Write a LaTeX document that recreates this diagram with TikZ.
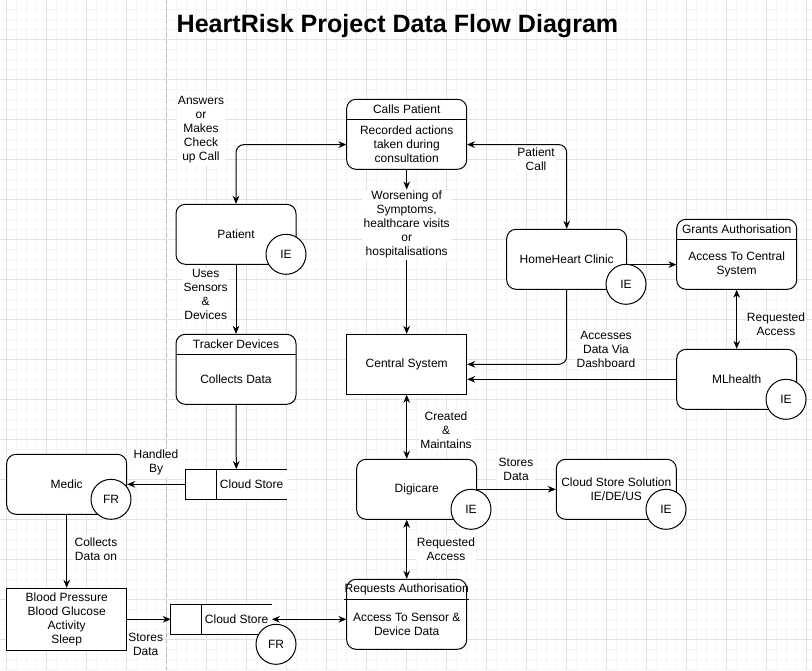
\documentclass[tikz,border=0pt]{standalone}
\usepackage{fontspec}
\setmainfont{Liberation Sans}
\usepackage{tikz}
\usetikzlibrary{positioning}
\usetikzlibrary{arrows.meta}
\usepackage{xcolor}

\definecolor{gridminor}{RGB}{245,245,245}
\definecolor{gridmajor}{RGB}{225,225,225}
\definecolor{divider}{RGB}{185,185,185}

\tikzset{
  line/.style={black, line width=0.75pt},
  proc/.style={line, draw, fill=white, rounded corners=7pt, minimum width=90pt, minimum height=45pt, align=center},
  plainbox/.style={line, draw, fill=white, minimum width=90pt, minimum height=45pt, align=center},
  tbox/.style={line, draw, fill=white, rounded corners=7pt, minimum width=90pt, minimum height=52.5pt},
  thead/.style={minimum width=90pt, minimum height=15pt, inner sep=0pt},
  tbody/.style={minimum width=90pt, minimum height=37.5pt, inner sep=0pt, align=center},
  store/.style={fill=white, minimum width=75.5pt, minimum height=22.5pt, inner sep=0pt},
  badge/.style={line, draw, fill=white, circle, minimum size=30pt, inner sep=0pt},
  lbl/.style={fill=white, inner sep=1pt, align=center},
  flow/.style={line, -{Stealth[length=6pt,width=5pt]}},
  twoway/.style={line, {Stealth[length=6pt,width=5pt]}-{Stealth[length=6pt,width=5pt]}}
}

\begin{document}
\begin{tikzpicture}[x=0.75pt, y=-0.75pt, font=\fontsize{9}{10.5}\selectfont]
\useasboundingbox (0,0) rectangle (812,670);
\fill[white] (0,0) rectangle (812,670);
\foreach \x in {6.7,16.7,...,806.7} \draw[gridminor, line width=0.5pt] (\x,0) -- (\x,670);
\foreach \y in {9.3,19.3,...,669.3} \draw[gridminor, line width=0.5pt] (0,\y) -- (812,\y);
\foreach \x in {6.7,46.7,...,806.7} \draw[gridmajor, line width=0.5pt] (\x,0) -- (\x,670);
\foreach \y in {39.3,79.3,...,669.3} \draw[gridmajor, line width=0.5pt] (0,\y) -- (812,\y);
\draw[divider, line width=0.6pt, dash pattern=on 2.5pt off 2.5pt] (166.7,0) -- (166.7,670);

\node[font=\bfseries\fontsize{18.8}{22}\selectfont] (title) at (397.5,26) {HeartRisk Project Data Flow Diagram};

\node[proc] (patient) at (236,234.3) {Patient};
\node[tbox] (track) at (236,369.3) {};
\node[thead, below=0pt of track.north] (trackH) {Tracker Devices};
\node[tbody, below=0pt of trackH] (trackB) {Collects Data};
\draw[line] (trackH.south west) -- (trackH.south east);

\node[tbox] (calls) at (406.7,134.3) {};
\node[thead, below=0pt of calls.north] (callsH) {Calls Patient};
\node[tbody, below=0pt of callsH] (callsB) {Recorded actions\\taken during\\consultation};
\draw[line] (callsH.south west) -- (callsH.south east);

\node[plainbox] (central) at (406.7,364.3) {Central System};
\node[proc] (home) at (566.7,259.3) {HomeHeart Clinic};

\node[tbox] (grants) at (736.7,254.3) {};
\node[thead, below=0pt of grants.north] (grantsH) {Grants Authorisation};
\node[tbody, below=0pt of grantsH] (grantsB) {Access To Central\\System};
\draw[line] (grantsH.south west) -- (grantsH.south east);

\node[proc] (ml) at (736.7,379.3) {MLhealth};
\node[proc] (digi) at (416.7,489.3) {Digicare};
\node[proc] (cloudsol) at (616.3,489.3) {Cloud Store Solution\\IE/DE/US};

\node[tbox] (req) at (406.7,614.3) {};
\node[thead, below=0pt of req.north] (reqH) {Requests Authorisation};
\node[tbody, below=0pt of reqH] (reqB) {Access To Sensor \&\\Device Data};
\draw[line] (reqH.south west) -- (reqH.south east);

\node[proc] (medic) at (66.7,484.3) {Medic};
\node[plainbox] (blood) at (66.7,619.3) {Blood Pressure\\Blood Glucose\\Activity\\Sleep};

\node[store] (cs1) at (236.3,484.3) {};
\draw[line] (cs1.north east) -- (cs1.north west) -- (cs1.south west) -- (cs1.south east);
\draw[line] ([xshift=23pt]cs1.north west) -- ([xshift=23pt]cs1.south west);
\node (cs1t) at ([xshift=11.5pt]cs1.center) {Cloud Store};

\node[store] (cs2) at (221.3,619.3) {};
\draw[line] (cs2.north east) -- (cs2.north west) -- (cs2.south west) -- (cs2.south east);
\draw[line] ([xshift=23pt]cs2.north west) -- ([xshift=23pt]cs2.south west);
\node (cs2t) at ([xshift=11.5pt]cs2.center) {Cloud Store};

\node[lbl] (answers) at (201,130) {Answers\\or\\Makes\\Check\\up Call};
\node[lbl] (uses) at (205.7,294.5) {Uses\\Sensors\\\&\\Devices};
\node[lbl] (worsen) at (406.7,224.7) {Worsening of\\Symptoms,\\healthcare visits\\or\\hospitalisations};
\node[lbl] (patcall) at (536,159.5) {Patient\\Call};
\node[lbl] (dash) at (606,349.7) {Accesses\\Data Via\\Dashboard};
\node[lbl] (reqacc1) at (776,324.5) {Requested\\Access};
\node[lbl] (created) at (446,429.8) {Created\\\&\\Maintains};
\node[lbl] (stores1) at (516,469.7) {Stores\\Data};
\node[lbl] (reqacc2) at (446,549.5) {Requested\\Access};
\node[lbl] (handled) at (156,462.7) {Handled\\By};
\node[lbl] (collects) at (96,549.7) {Collects\\Data on};
\node[lbl] (stores2) at (145.7,644.3) {Stores\\Data};

\draw[twoway, rounded corners=6pt] (callsB.west) -| (patient.north);
\draw[twoway, rounded corners=6pt] (callsB.east) -| (home.north);
\draw[flow] (callsB.south) -- (worsen.north);
\draw[flow] (worsen.south) -- (central.north);
\draw[flow] (patient.south) -- (track.north);
\draw[flow] (track.south) -- (cs1.north);
\draw[flow] (cs1.west) -- (medic.east);
\draw[flow] (medic.south) -- (blood.north);
\draw[flow] (blood.east) -- (cs2.west);
\draw[twoway] (cs2.east) -- (cs2.east -| reqB.west);
\draw[twoway] (req.north) -- (req.north |- digi.south);
\draw[twoway] (central.south) -- (central.south |- digi.north);
\draw[flow] (digi.east) -- (cloudsol.west);
\draw[flow] (home.east |- grantsB.west) -- (grantsB.west);
\draw[twoway] (grants.south) -- (ml.north);
\draw[flow, rounded corners=6pt] (home.south) |- (central.east);
\draw[flow] (ml.west) -- (ml.west -| central.east);

\node[badge] (patientIE) at (286,254.3) {IE};
\node[badge] (homeIE) at (626,284.3) {IE};
\node[badge] (mlIE) at (786,399.3) {IE};
\node[badge] (digiIE) at (471,509.3) {IE};
\node[badge] (cloudsolIE) at (666,509.3) {IE};
\node[badge] (medicFR) at (111,499.3) {FR};
\node[badge] (cs2FR) at (276,644.3) {FR};
\end{tikzpicture}
\end{document}
